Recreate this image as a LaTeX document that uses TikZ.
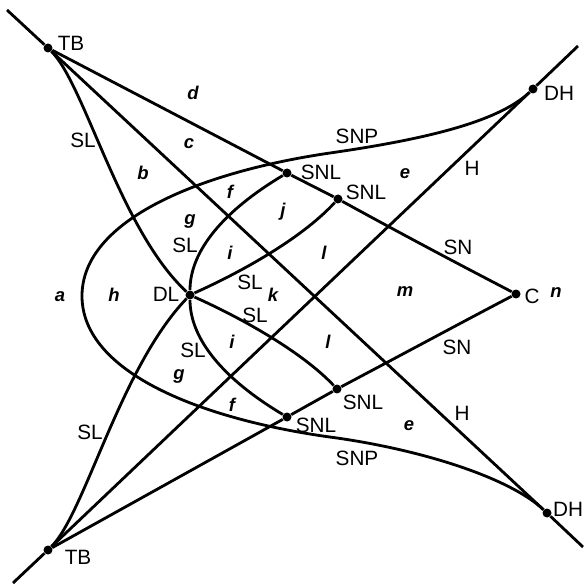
\documentclass[tikz,border=0pt]{standalone}
\usepackage{fontspec}
\setmainfont{Liberation Sans}
\begin{document}
\begin{tikzpicture}[
  x=0.02cm,y=-0.02cm,
  dot/.style={circle,fill=black,inner sep=0pt,minimum size=1.8mm},
  curve/.style={line width=1.6pt,line join=round},
  lbl/.style={font=\fontsize{11.8}{13}\selectfont,inner sep=0pt},
  region/.style={font=\fontsize{10.5}{12}\selectfont\bfseries\itshape,inner sep=0pt}
]
\useasboundingbox (0,0) rectangle (585,584);
\node[dot] (tbT) at (48,48) {};
\node[dot] (tbB) at (48,550) {};
\node[dot] (dhT) at (533,89) {};
\node[dot] (dhB) at (547,513) {};
\node[dot] (c) at (516,294) {};
\node[dot] (dl) at (190,295) {};
\node[dot] (snlA) at (287,173) {};
\node[dot] (snlB) at (338,199) {};
\node[dot] (snlC) at (337,389) {};
\node[dot] (snlD) at (287,417) {};
\coordinate (endA) at (7,10);
\coordinate (endB) at (583,547);
\coordinate (endC) at (13,583);
\coordinate (endD) at (578,46);
\coordinate (snpT) at (330,153);
\coordinate (snpL) at (82,296);
\coordinate (snpB) at (337,438);

\draw[curve] (endA) -- (tbT) -- (dhB) -- (endB);
\draw[curve] (endC) -- (tbB) -- (dhT) -- (endD);
\draw[curve] (tbT) -- (snlA) -- (snlB) .. controls (420,244) and (470,270) .. (c)
  .. controls (470,318) and (420,345) .. (snlC) -- (snlD) -- (tbB);
\draw[curve] (dhT) .. controls (497,123) and (420,140) .. (snpT)
  .. controls (200,172) and (82,220) .. (snpL)
  .. controls (82,372) and (200,420) .. (snpB)
  .. controls (427,451) and (511,479) .. (dhB);
\draw[curve] (snlA) .. controls (225,210) and (190,250) .. (dl)
  .. controls (190,340) and (225,380) .. (snlD);
\draw[curve] (tbT) .. controls (85,85) and (120,230) .. (dl);
\draw[curve] (tbB) .. controls (85,513) and (120,368) .. (dl);
\draw[curve] (dl) .. controls (250,268) and (305,235) .. (snlB);
\draw[curve] (dl) .. controls (250,322) and (305,355) .. (snlC);

\node[lbl] (tbTL) at (71,43) {TB};
\node[lbl] (tbBL) at (78,557) {TB};
\node[lbl] (dhTL) at (559,93) {DH};
\node[lbl] (dhBL) at (568,509) {DH};
\node[lbl] (cL) at (532,296) {C};
\node[lbl] (dlL) at (166,294) {DL};
\node[lbl] (snlAL) at (321,172) {SNL};
\node[lbl] (snlBL) at (366,192) {SNL};
\node[lbl] (snlCL) at (363,402) {SNL};
\node[lbl] (snlDL) at (316,425) {SNL};
\node[lbl] (slA) at (83,140) {SL};
\node[lbl] (slB) at (90,432) {SL};
\node[lbl] (slC) at (185,245) {SL};
\node[lbl] (slD) at (250,282) {SL};
\node[lbl] (slE) at (255,315) {SL};
\node[lbl] (slF) at (193,350) {SL};
\node[lbl] (snpTL) at (357,136) {SNP};
\node[lbl] (snpBL) at (357,458) {SNP};
\node[lbl] (snT) at (458,247) {SN};
\node[lbl] (snB) at (457,347) {SN};
\node[lbl] (hT) at (472,168) {H};
\node[lbl] (hB) at (462,413) {H};

\node[region] (rA) at (60,297) {a};
\node[region] (rH) at (114,295) {h};
\node[region] (rB) at (143,173) {b};
\node[region] (rC) at (189,144) {c};
\node[region] (rD) at (193,93) {d};
\node[region] (rGa) at (190,221) {g};
\node[region] (rFa) at (230,192) {f};
\node[region] (rJ) at (283,212) {j};
\node[region] (rIa) at (230,253) {i};
\node[region] (rK) at (273,295) {k};
\node[region] (rLa) at (324,253) {l};
\node[region] (rM) at (405,292) {m};
\node[region] (rEa) at (405,174) {e};
\node[region] (rN) at (556,293) {n};
\node[region] (rIb) at (232,342) {i};
\node[region] (rLb) at (328,342) {l};
\node[region] (rGb) at (179,376) {g};
\node[region] (rFb) at (232,405) {f};
\node[region] (rEb) at (409,426) {e};
\end{tikzpicture}
\end{document}
